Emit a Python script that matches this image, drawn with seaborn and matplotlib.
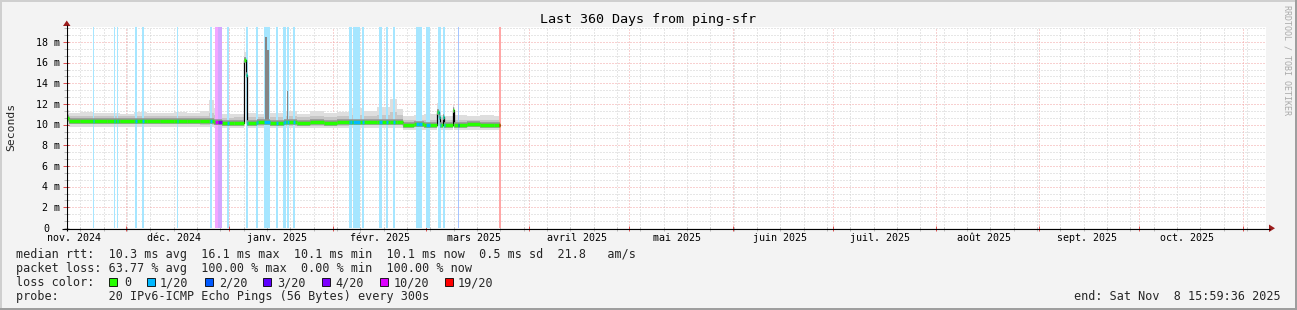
import numpy as np
import pandas as pd
import matplotlib
matplotlib.use("Agg")
import matplotlib.pyplot as plt
import matplotlib.dates as mdates
import matplotlib.transforms as mtrans
import matplotlib.colors as mcolors
from matplotlib.patches import Rectangle, Polygon
from matplotlib.lines import Line2D
import seaborn as sns

W, H = 1297, 310

# ---------------- data ----------------
median_dates = [
    "2024-11-13 23:00", "2024-11-14 12:00", "2024-11-18 00:00", "2024-11-22 00:00",
    "2024-11-26 00:00", "2024-11-30 00:00", "2024-12-04 00:00", "2024-12-08 00:00",
    "2024-12-12 00:00", "2024-12-16 00:00", "2024-12-20 00:00", "2024-12-24 00:00",
    "2024-12-26 12:00", "2024-12-28 00:00", "2024-12-30 12:00", "2025-01-03 00:00",
    "2025-01-06 00:00", "2025-01-06 16:00", "2025-01-07 00:00", "2025-01-10 00:00",
    "2025-01-14 00:00", "2025-01-18 00:00", "2025-01-22 00:00", "2025-01-26 00:00",
    "2025-01-30 00:00", "2025-02-03 00:00", "2025-02-07 00:00", "2025-02-11 00:00",
    "2025-02-15 00:00", "2025-02-19 00:00", "2025-02-21 00:00", "2025-02-22 20:00",
    "2025-02-26 00:00", "2025-03-01 00:00", "2025-03-05 00:00", "2025-03-05 14:00",
    "2025-03-06 00:00", "2025-03-06 18:00", "2025-03-07 04:00", "2025-03-09 18:00",
    "2025-03-10 02:00", "2025-03-14 00:00", "2025-03-18 00:00", "2025-03-22 00:00",
]
median_ms = [
    10.62, 10.38, 10.38, 10.40, 10.38, 10.37, 10.38, 10.36, 10.38, 10.40, 10.38, 10.36,
    10.33, 10.30, 10.20, 10.20, 16.30, 14.85, 10.20, 10.22, 10.20, 10.22, 10.20, 10.22,
    10.20, 10.23, 10.25, 10.25, 10.25, 10.25, 10.25, 10.00, 10.02, 10.00, 11.20, 10.70,
    10.00, 10.70, 10.00, 11.45, 10.00, 10.02, 10.00, 10.00,
]
smoke_lo_ms = [
    9.95, 9.80, 9.80, 9.80, 9.80, 9.80, 9.80, 9.80, 9.80, 9.80, 9.80, 9.80,
    9.75, 9.70, 9.65, 9.65, 16.00, 14.60, 9.65, 9.65, 9.65, 9.65, 9.65, 9.65,
    9.65, 9.65, 9.70, 9.70, 9.70, 9.70, 9.70, 9.50, 9.50, 9.50, 9.90, 9.70,
    9.50, 9.60, 9.50, 9.80, 9.50, 9.50, 9.50, 9.50,
]
smoke_mid_lo_ms = [
    10.25, 10.05, 10.05, 10.05, 10.05, 10.05, 10.05, 10.05, 10.05, 10.05, 10.05, 10.00,
    10.00, 9.95, 9.90, 9.90, 16.10, 14.70, 9.90, 9.90, 9.90, 9.90, 9.90, 9.90,
    9.90, 9.90, 9.95, 9.95, 9.95, 9.95, 9.95, 9.75, 9.75, 9.75, 10.60, 10.00,
    9.75, 9.90, 9.75, 10.50, 9.75, 9.75, 9.75, 9.75,
]
smoke_mid_hi_ms = [
    11.00, 10.80, 10.85, 10.80, 10.85, 10.80, 10.85, 10.80, 10.85, 10.85, 10.80, 10.85,
    11.10, 10.90, 10.65, 10.70, 16.60, 15.00, 10.70, 10.75, 10.70, 10.80, 10.70, 10.80,
    10.75, 10.80, 10.90, 10.80, 10.90, 11.20, 10.90, 10.45, 10.50, 10.50, 11.50, 11.20,
    10.50, 11.00, 10.45, 11.60, 10.45, 10.50, 10.45, 10.50,
]
smoke_hi_ms = [
    11.45, 11.10, 11.20, 11.10, 11.15, 11.05, 11.20, 11.10, 11.15, 11.20, 11.10, 11.30,
    12.40, 11.60, 11.00, 11.05, 17.00, 15.30, 11.10, 11.00, 11.10, 11.30, 11.05, 11.35,
    11.10, 11.25, 11.60, 11.30, 11.70, 12.50, 11.50, 10.85, 10.90, 11.00, 12.10, 11.80,
    10.90, 11.30, 10.85, 11.90, 10.90, 10.85, 10.90, 10.85,
]
data_end = "2025-03-24 00:00"

spike_dates = ["2025-01-12 08:00", "2025-01-12 22:00", "2025-01-18 23:00"]
spike_days = [0.6, 0.6, 0.45]
spike_top_ms = [18.5, 17.2, 13.3]
spike_base_ms = [10.2, 10.2, 10.2]

loss_start = [
    "2024-11-21 18:00", "2024-11-28 02:00", "2024-11-28 23:00", "2024-12-04 09:00",
    "2024-12-06 11:00", "2024-12-16 23:00", "2024-12-26 21:00", "2024-12-28 09:00",
    "2024-12-29 06:30", "2024-12-31 23:00", "2025-01-06 16:00", "2025-01-09 16:00",
    "2025-01-12 02:00", "2025-01-15 16:00", "2025-01-17 18:00", "2025-01-18 23:00",
    "2025-01-20 18:00", "2025-02-06 14:00", "2025-02-07 18:00", "2025-02-10 11:00",
    "2025-02-15 14:00", "2025-02-17 16:00", "2025-02-19 18:00", "2025-02-26 16:00",
    "2025-02-27 14:00", "2025-03-01 16:00", "2025-03-05 06:00", "2025-03-06 18:00",
    "2025-03-11 06:00", "2025-03-23 14:00",
]
loss_days = [
    0.3, 0.3, 0.3, 0.6, 0.6, 0.3, 0.6, 0.9, 1.2, 0.6, 0.6, 0.6,
    1.8, 0.6, 0.9, 0.6, 0.6, 1.0, 2.0, 0.6, 0.9, 0.6, 0.6, 0.9,
    0.9, 1.2, 0.9, 0.6, 0.3, 0.6,
]
loss_level = [
    "1/20", "1/20", "1/20", "1/20", "1/20", "1/20", "1/20", "10/20", "4/20", "1/20",
    "1/20", "1/20", "1/20", "1/20", "1/20", "1/20", "1/20", "1/20", "1/20", "1/20",
    "1/20", "1/20", "1/20", "1/20", "1/20", "1/20", "1/20", "1/20", "2/20", "19/20",
]

loss_names = ["0", "1/20", "2/20", "3/20", "4/20", "10/20", "19/20"]
loss_colors = ["#26FF00", "#00B8FF", "#0059FF", "#5E00FF", "#7E00FF", "#DD00FF", "#FF0000"]

month_label_dates = [
    "2024-11-16", "2024-12-16", "2025-01-16", "2025-02-16", "2025-03-16", "2025-04-16",
    "2025-05-16", "2025-06-16", "2025-07-16", "2025-08-16", "2025-09-16", "2025-10-16",
]
month_labels = [
    "nov. 2024", "déc. 2024", "janv. 2025", "févr. 2025", "mars 2025", "avril 2025",
    "mai 2025", "juin 2025", "juil. 2025", "août 2025", "sept. 2025", "oct. 2025",
]
y_tick_ms = [0, 2, 4, 6, 8, 10, 12, 14, 16, 18]
y_tick_labels = ["0", "2 m", "4 m", "6 m", "8 m", "10 m", "12 m", "14 m", "16 m", "18 m"]

title = "Last 360 Days from ping-sfr"
y_title = "Seconds"
side_text = "RRDTOOL / TOBI OETIKER"
stats_lines = [
    "median rtt:  10.3 ms avg  16.1 ms max  10.1 ms min  10.1 ms now  0.5 ms sd  21.8   am/s",
    "packet loss: 63.77 % avg  100.00 % max  0.00 % min  100.00 % now",
]
loss_label = "loss color:"
probe_line = "probe:       20 IPv6-ICMP Echo Pings (56 Bytes) every 300s"
end_line = "end: Sat Nov  8 15:59:36 2025"

# ---------------- styling / layout ----------------
sns.set_theme(style="white")
plt.rcParams["font.family"] = ["DejaVu Sans Mono"]
plt.rcParams["lines.solid_capstyle"] = "butt"

BG = "#F3F3F3"
fig = plt.figure(figsize=(W / 100, H / 100), dpi=100, facecolor=BG)


def fx(x):
    return x / W


def fy(y):
    return 1 - y / H


ax = fig.add_axes([fx(66), fy(228), 1200 / W, 201 / H])
ax.set_facecolor("white")
for s in ax.spines.values():
    s.set_visible(False)

t_end = pd.Timestamp("2025-11-08 15:59:36")
t_start = t_end - pd.Timedelta(days=360)
x0, x1 = mdates.date2num(t_start), mdates.date2num(t_end)
ymax = 201 / 10.33

# grid
grid_kw = dict(lw=0.72, ls=(0, (1, 2)), zorder=0.5)
weeks = mdates.date2num(pd.date_range(t_start, t_end, freq="W-MON").normalize())
months = mdates.date2num(pd.date_range(t_start, t_end, freq="MS"))
for w in weeks:
    if not np.any(np.isclose(w, months)):
        ax.axvline(w, color="#CFCFCF", **grid_kw)
for m in months:
    ax.axvline(m, color="#F2A2A2", **grid_kw)
minor_y = np.arange(0, ymax, 2 / 3)
for v in minor_y:
    if abs(v / 2 - round(v / 2)) > 0.01:
        ax.axhline(v, color="#CFCFCF", **grid_kw)
for v in y_tick_ms[1:]:
    ax.axhline(v, color="#F2A2A2", **grid_kw)

# smoke
md = mdates.date2num(pd.to_datetime(median_dates + [data_end]))


def ext(a):
    return np.array(list(a) + [a[-1]])


ax.fill_between(md, ext(smoke_lo_ms), ext(smoke_hi_ms), step="post",
                color="#DEDEDE", lw=0, zorder=2)
ax.fill_between(md, ext(smoke_mid_lo_ms), ext(smoke_mid_hi_ms), step="post",
                color="#C6C6C6", lw=0, zorder=2.1)

# loss bars (full height, light tint)
lvl_color = dict(zip(loss_names, loss_colors))
white = np.array([1.0, 1.0, 1.0])
ls_num = mdates.date2num(pd.to_datetime(loss_start))
for s, d, lv in zip(ls_num, loss_days, loss_level):
    c = np.array(mcolors.to_rgb(lvl_color[lv]))
    light = 0.35 * c + 0.65 * white
    ax.axvspan(s, s + d, color=light, lw=0, zorder=2.5, antialiased=False)

# smoke spikes (all pings high) drawn above the loss tint
sd = mdates.date2num(pd.to_datetime(spike_dates))
ax.bar(sd, np.array(spike_top_ms) - np.array(spike_base_ms), bottom=spike_base_ms,
       width=spike_days, align="edge", color="#858585", lw=0, zorder=2.7)

# median line
sns.lineplot(x=md, y=ext(median_ms), ax=ax, drawstyle="steps-post", color="black",
             lw=0.9, zorder=3, estimator=None)
ax.hlines(median_ms, md[:-1], md[1:], color="#949494", lw=4.0, zorder=3.1)
ax.hlines(median_ms, md[:-1], md[1:], color=lvl_color["0"], lw=2.5, zorder=3.2)
for s, d, lv in zip(ls_num, loss_days, loss_level):
    e = s + d
    for i in range(len(median_ms)):
        a, b = max(md[i], s), min(md[i + 1], e)
        if b > a:
            ax.hlines(median_ms[i], a, b, color=lvl_color[lv], lw=2.5, zorder=3.3)

ax.set_xlim(x0, x1)
ax.set_ylim(0, ymax)
ax.set_xticks([])
ax.set_yticks([])
ax.set_xlabel("")
ax.set_ylabel("")
leg = ax.get_legend()
if leg is not None:
    leg.remove()

# axis tick marks
tx = mtrans.blended_transform_factory(ax.transData, fig.transFigure)
for w in weeks:
    ax.plot([w, w], [fy(226.5), fy(230.5)], color="#BBBBBB", lw=0.72, transform=tx, clip_on=False)
for m in months:
    ax.plot([m, m], [fy(225.5), fy(231)], color="#E05050", lw=0.72, transform=tx, clip_on=False)
ty = mtrans.blended_transform_factory(fig.transFigure, ax.transData)
for v in minor_y:
    ax.plot([fx(64), fx(68.5)], [v, v], color="#BBBBBB", lw=0.72, transform=ty, clip_on=False)
for v in y_tick_ms[1:]:
    ax.plot([fx(63), fx(69)], [v, v], color="#E05050", lw=0.72, transform=ty, clip_on=False)

# axis lines and arrows
fig.add_artist(Line2D([fx(66.5), fx(66.5)], [fy(231), fy(25)], color="black", lw=0.8))
fig.add_artist(Line2D([fx(62), fx(1270)], [fy(228.5), fy(228.5)], color="black", lw=0.8))
fig.add_artist(Polygon([[fx(63), fy(26)], [fx(70.5), fy(26)], [fx(66.75), fy(20.5)]],
                       closed=True, color="#9B1B1B", transform=fig.transFigure, lw=0))
fig.add_artist(Polygon([[fx(1269), fy(224.5)], [fx(1269), fy(232)], [fx(1275), fy(228.25)]],
                       closed=True, color="#9B1B1B", transform=fig.transFigure, lw=0))

# tick labels
TICK_FS = 7.2
ty_lab = mtrans.offset_copy(ty, fig=fig, y=-3.6, units="dots")
for v, lab in zip(y_tick_ms, y_tick_labels):
    xr = fx(60) if lab.endswith("m") else fx(49)
    ax.text(xr, v, lab, transform=ty_lab, ha="right", va="baseline",
            fontsize=TICK_FS, color="black", clip_on=False)
for d, lab in zip(mdates.date2num(pd.to_datetime(month_label_dates)), month_labels):
    ax.text(d, fy(241), lab, transform=tx, ha="center", va="baseline",
            fontsize=TICK_FS, color="black", clip_on=False)

# titles
fig.text(fx(648), fy(23), title, ha="center", va="baseline", fontsize=9.6, color="black")
fig.text(fx(11), fy(127), y_title, rotation=90, ha="center", va="center", fontsize=8.2)
fig.text(fx(1287), fy(60), side_text, rotation=270, ha="center", va="center",
         fontsize=6, color="#AAAAAA")

# legend block
LEG_FS = 8.45
fig.text(fx(16), fy(258), stats_lines[0], ha="left", va="baseline", fontsize=LEG_FS)
fig.text(fx(16), fy(272), stats_lines[1], ha="left", va="baseline", fontsize=LEG_FS)
fig.text(fx(16), fy(286), loss_label, ha="left", va="baseline", fontsize=LEG_FS)
box_x = [109, 147, 205, 263, 322, 380, 445]
lab_x = [124, 160, 219, 277, 335, 394, 458]
for bx, lx, name, col in zip(box_x, lab_x, loss_names, loss_colors):
    fig.add_artist(Rectangle((fx(bx), fy(286)), 8 / W, 8 / H, transform=fig.transFigure,
                             facecolor=col, edgecolor="black", lw=0.6))
    fig.text(fx(lx), fy(286), name, ha="left", va="baseline", fontsize=LEG_FS)
fig.text(fx(16), fy(300), probe_line, ha="left", va="baseline", fontsize=LEG_FS)
fig.text(fx(1281), fy(300), end_line, ha="right", va="baseline", fontsize=LEG_FS)

# outer frame
fig.add_artist(Rectangle((0, 1 - 2 / H), 1, 2 / H, transform=fig.transFigure, color="#CFCFCF", lw=0))
fig.add_artist(Rectangle((0, 0), 2 / W, 1, transform=fig.transFigure, color="#CFCFCF", lw=0))
fig.add_artist(Rectangle((0, 0), 1, 2 / H, transform=fig.transFigure, color="#9E9E9E", lw=0))
fig.add_artist(Rectangle((1 - 2 / W, 0), 2 / W, 1, transform=fig.transFigure, color="#9E9E9E", lw=0))

fig.savefig("out.png", dpi=100, facecolor=BG)
